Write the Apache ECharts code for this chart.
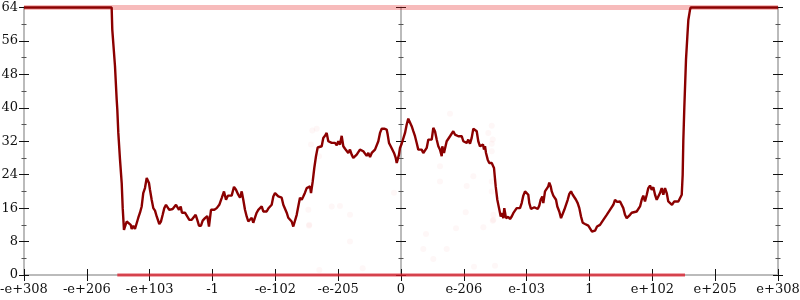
<!DOCTYPE html>
<html>
<head>
<meta charset="utf-8">
<script src="https://cdn.jsdelivr.net/npm/echarts@6/dist/echarts.min.js"></script>
<style>html,body{margin:0;padding:0;background:#fff}#c{width:800px;height:300px}</style>
</head>
<body>
<div id="c"></div>
<script>
// x tick labels (positions -6..6 on the axis)
const xLabels = ["-e+308","-e+206","-e+103","-1","-e-102","-e-205","0","e-206","e-103","1","e+102","e+205","e+308"];
const yTicks = [0, 8, 16, 24, 32, 40, 48, 56, 64];

// main curve [x, value]
const curve = [
[-6,64],[-4.605,64],[-4.595,58.7],[-4.552,50],[-4.525,42],[-4.515,39.6],[-4.499,34],[-4.472,27.6],[-4.445,22],[-4.429,16],
[-4.409,10.8],[-4.366,12.8],[-4.340,12.4],[-4.302,12],[-4.286,11],[-4.261,11.8],[-4.234,11],[-4.207,11],[-4.181,13.7],[-4.154,14.9],
[-4.127,16.4],[-4.102,19.6],[-4.075,20.8],[-4.047,23.2],[-4.032,23.4],[-4.011,22],[-3.995,20.4],[-3.968,18],[-3.942,16],[-3.915,15.4],
[-3.888,14],[-3.847,12.2],[-3.820,12.8],[-3.793,14.4],[-3.767,16],[-3.740,16.8],[-3.713,17],[-3.688,15.6],[-3.661,16],[-3.634,15.8],
[-3.608,16],[-3.581,16.8],[-3.554,17],[-3.533,15.6],[-3.506,16.4],[-3.486,14.9],[-3.465,15.2],[-3.438,14.9],[-3.411,14.9],[-3.369,13.2],
[-3.331,13.2],[-3.306,13.6],[-3.268,14.4],[-3.242,13.2],[-3.215,11.8],[-3.183,11.8],[-3.156,13],[-3.120,13.6],[-3.083,14.1],[-3.056,11.6],
[-3.024,15.6],[-3.003,16],[-2.971,15.6],[-2.933,16],[-2.892,16.8],[-2.854,18.4],[-2.817,20],[-2.785,18],[-2.753,19],[-2.733,18.8],
[-2.695,19],[-2.658,21.1],[-2.626,20.4],[-2.590,19.2],[-2.562,18.5],[-2.535,20],[-2.510,18],[-2.483,15.6],[-2.456,14],[-2.430,12.8],
[-2.403,13.2],[-2.376,13.7],[-2.351,12.5],[-2.324,13.7],[-2.297,14.9],[-2.271,15.6],[-2.244,15.6],[-2.217,16.4],[-2.192,15.2],[-2.165,15.6],
[-2.138,15.2],[-2.112,15.9],[-2.085,15.6],[-2.058,16.8],[-2.032,18.8],[-2.005,19.6],[-1.978,19.2],[-1.953,18.8],[-1.926,19.2],[-1.899,18.5],
[-1.873,16.8],[-1.846,16.4],[-1.819,14.9],[-1.794,13.7],[-1.767,13.7],[-1.740,12.8],[-1.714,11.6],[-1.687,11.6],[-1.660,14.4],[-1.635,16.4],
[-1.608,18.5],[-1.580,18],[-1.555,18.8],[-1.528,19.7],[-1.501,20.8],[-1.475,20.6],[-1.448,21.2],[-1.432,19.6],[-1.405,22.4],[-1.380,25.6],
[-1.353,28.4],[-1.326,30.5],[-1.300,30.2],[-1.262,30.8],[-1.237,32.8],[-1.210,33.3],[-1.183,34],[-1.157,32],[-1.130,32.2],[-1.103,31.6],
[-1.078,32],[-1.050,31.6],[-1.023,31],[-0.998,32],[-0.971,31.2],[-0.944,33.3],[-0.918,30.8],[-0.891,30.2],[-0.864,30.6],[-0.839,29.2],
[-0.812,30],[-0.785,28.8],[-0.759,28],[-0.732,28],[-0.705,28.8],[-0.680,29.2],[-0.653,30],[-0.625,30.4],[-0.600,29.6],[-0.573,29.2],
[-0.546,28.5],[-0.520,29.2],[-0.493,28.2],[-0.466,29.2],[-0.441,28.8],[-0.414,30],[-0.387,30],[-0.361,32],[-0.334,34],[-0.307,35],
[-0.266,35],[-0.228,34.8],[-0.212,33.6],[-0.191,31.6],[-0.164,30.8],[-0.138,30.4],[-0.111,29.2],[-0.084,28],[-0.068,26.8],[-0.053,27.6],
[-0.032,28.8],[-0.016,30.4],[0.011,31.4],[0.037,31.6],[0.064,34],[0.091,36],[0.116,37.4],[0.143,37.2],[0.170,35.6],[0.196,34.4],
[0.223,33.2],[0.250,31.6],[0.275,30],[0.302,29.6],[0.329,30],[0.355,29.2],[0.382,28.8],[0.409,30.4],[0.435,32.4],[0.462,32.8],
[0.489,32.4],[0.514,35.2],[0.541,34.4],[0.568,32.4],[0.594,30.8],[0.621,30],[0.648,28.4],[0.657,30.8],[0.684,29.2],[0.700,29.6],
[0.727,32],[0.753,32.4],[0.780,33.2],[0.807,33.6],[0.832,34.4],[0.859,33.6],[0.886,33.6],[0.912,33.2],[0.939,33.4],[0.966,33.2],
[0.992,32],[1.019,32.4],[1.046,31.6],[1.071,32.4],[1.098,31.4],[1.125,32.8],[1.151,35],[1.178,35.4],[1.205,34.4],[1.230,32],
[1.257,30.8],[1.284,30.4],[1.305,31.2],[1.321,30],[1.337,30.8],[1.353,29.2],[1.380,27.6],[1.405,26.8],[1.444,26.8],[1.480,25.6],
[1.507,21.2],[1.533,18],[1.560,16],[1.587,14],[1.612,14.8],[1.628,13.6],[1.644,16],[1.671,13.6],[1.708,13.9],[1.735,13.4],
[1.762,14],[1.787,14.8],[1.814,15.2],[1.841,16],[1.867,16.4],[1.894,16],[1.921,17.2],[1.947,19],[1.974,20],[2.001,20.2],
[2.026,19.2],[2.042,17.2],[2.069,15.8],[2.096,15.5],[2.122,16.2],[2.149,16.6],[2.176,15.8],[2.201,16.6],[2.223,18],[2.249,18.8],
[2.265,17.2],[2.292,20],[2.319,20.4],[2.344,21.2],[2.360,22.1],[2.383,21.2],[2.399,20],[2.424,19],[2.451,19.2],[2.467,18],
[2.488,16.4],[2.519,15.2],[2.547,13.6],[2.574,13.8],[2.599,15.6],[2.626,16.8],[2.653,18],[2.679,19.4],[2.706,20],[2.733,19.2],
[2.758,19.2],[2.785,18],[2.812,17.2],[2.838,16],[2.865,14],[2.892,12.5],[2.929,12.2],[2.956,12],[2.981,11.8],[3.008,11.6],
[3.040,10.4],[3.088,10.6],[3.120,11.6],[3.167,12],[3.220,13.2],[3.274,14.4],[3.326,15.6],[3.379,16.8],[3.406,18],[3.438,17.5],
[3.459,17.2],[3.486,17.6],[3.513,17.2],[3.538,16],[3.565,14.4],[3.592,13.6],[3.618,14],[3.645,14.4],[3.672,14.9],[3.697,15.2],
[3.751,15.2],[3.777,15.6],[3.804,16.4],[3.831,18],[3.856,19],[3.883,17.6],[3.911,19.2],[3.936,20.8],[3.963,21.4],[3.990,20.4],
[4.016,21],[4.043,19.2],[4.070,18],[4.095,18.4],[4.122,19.6],[4.149,20.8],[4.175,19.2],[4.202,20.8],[4.229,19.6],[4.254,17.6],
[4.281,17.2],[4.313,16.8],[4.350,17.6],[4.377,17.2],[4.414,17.6],[4.441,18],[4.468,19.2],[4.483,24],[4.493,32],[4.509,40],
[4.536,51.6],[4.557,57],[4.573,61],[4.600,63.5],[4.611,64],[6,64]
];

// dense sample rows (drawn as bands) and sparse faint samples
const topBand = [[-6, 64], [6, 64]];
const bottomBand = [[-4.515, 0], [4.52, 0]];
const faintSamples = [
[-1.475,15.6],[-1.460,12],[-1.103,16.4],[-0.971,16.5],[-0.812,14.4],[-0.812,8],[-1.300,1.2],[-0.610,1.6],
[0.398,9.8],[0.355,6.2],[0.514,3.8],[0.727,6.2],[0.875,11.2],[1.030,15],[1.162,2],[1.310,11.4],[1.460,13],
[1.469,14.4],[1.496,2.2],[-1.412,34.6],[-1.342,35],[-1.432,31.2],[-1.305,28.4],[0.780,38.6],[1.444,35.7],
[1.389,34],[1.460,32.4],[1.444,31.4],[1.444,29.6],[0.621,26],[1.046,21.3],[0.621,22.4],[-0.111,19.7],
[1.151,23.6],[1.444,22.4],[1.444,20],[1.469,13.2],[-1.464,11.8]
];

const chart = echarts.init(document.getElementById('c'), null, {renderer: 'canvas'});
const font = 'DejaVu Serif';
const gridLine = {show: true, lineStyle: {color: '#bbbbbb', width: 2}};
function yAx(opts) {
  return Object.assign({
    type: 'value', min: 0, max: 64, interval: 8,
    splitLine: {show: false},
    axisLabel: {show: false},
    axisLine: {show: false, onZero: false},
    axisTick: {show: true, length: 5, lineStyle: {color: '#111', width: 1}},
    minorTick: {show: true, splitNumber: 2, length: 2.5, lineStyle: {color: '#555', width: 1}},
    minorSplitLine: {show: false}
  }, opts);
}
const option = {
  animation: false,
  backgroundColor: '#fff',
  grid: {left: 24, right: 22, top: 7.5, bottom: 25, containLabel: false, outerBoundsMode: 'none'},
  xAxis: [
    {type: 'value', min: -6, max: 6, interval: 1, position: 'bottom',
     axisLine: {show: true, onZero: false, lineStyle: {color: '#bbbbbb', width: 2}},
     axisTick: {show: true, length: 6, lineStyle: {color: '#111', width: 1}},
     splitLine: {show: false},
     axisLabel: {show: true, margin: 8, color: '#111', fontFamily: font, fontSize: 13,
       showMinLabel: true, showMaxLabel: true, hideOverlap: false,
       formatter: v => xLabels[Math.round(v) + 6]}},
    {type: 'value', min: -6, max: 6, interval: 1, position: 'bottom',
     axisLine: {show: false, onZero: false},
     axisTick: {show: true, inside: true, length: 6, lineStyle: {color: '#111', width: 1}},
     splitLine: {show: false}, axisLabel: {show: false}}
  ],
  yAxis: [
    yAx({position: 'left', axisLine: Object.assign({}, gridLine, {onZero: false}),
         axisLabel: {show: true, margin: 6, color: '#111', fontFamily: font, fontSize: 13,
           formatter: v => (yTicks.indexOf(v) >= 0 ? String(v) : '')}}),
    yAx({position: 'left', axisTick: {show: true, inside: true, length: 5, lineStyle: {color: '#111', width: 1}},
         minorTick: {show: true, splitNumber: 2, length: 2.5, lineStyle: {color: '#555', width: 1}}}),
    yAx({position: 'left', axisLine: Object.assign({}, gridLine, {onZero: true, onZeroAxisIndex: 0})}),
    yAx({position: 'left', axisLine: {show: false, onZero: true, onZeroAxisIndex: 0},
         axisTick: {show: true, inside: true, length: 5, lineStyle: {color: '#111', width: 1}},
         minorTick: {show: true, splitNumber: 2, length: 2.5, lineStyle: {color: '#555', width: 1}}}),
    yAx({position: 'right', axisLine: Object.assign({}, gridLine, {onZero: false})}),
    yAx({position: 'right', axisTick: {show: true, inside: true, length: 5, lineStyle: {color: '#111', width: 1}},
         minorTick: {show: true, splitNumber: 2, length: 2.5, lineStyle: {color: '#555', width: 1}}})
  ],
  series: [
    {type: 'line', data: topBand, symbol: 'none', clip: false, silent: true,
     lineStyle: {color: 'rgba(228,30,30,0.3)', width: 5}, z: 2},
    {type: 'line', data: bottomBand, symbol: 'none', clip: false, silent: true,
     lineStyle: {color: 'rgba(222,25,40,0.75)', width: 3}, z: 2},
    {type: 'scatter', data: faintSamples, symbolSize: 6, silent: true,
     itemStyle: {color: 'rgba(235,80,80,0.06)'}, z: 2},
    {type: 'line', data: curve, symbol: 'none', clip: false, silent: true,
     lineStyle: {color: '#8b0000', width: 2.4}, z: 3}
  ]
};
chart.setOption(option);
</script>
</body>
</html>
